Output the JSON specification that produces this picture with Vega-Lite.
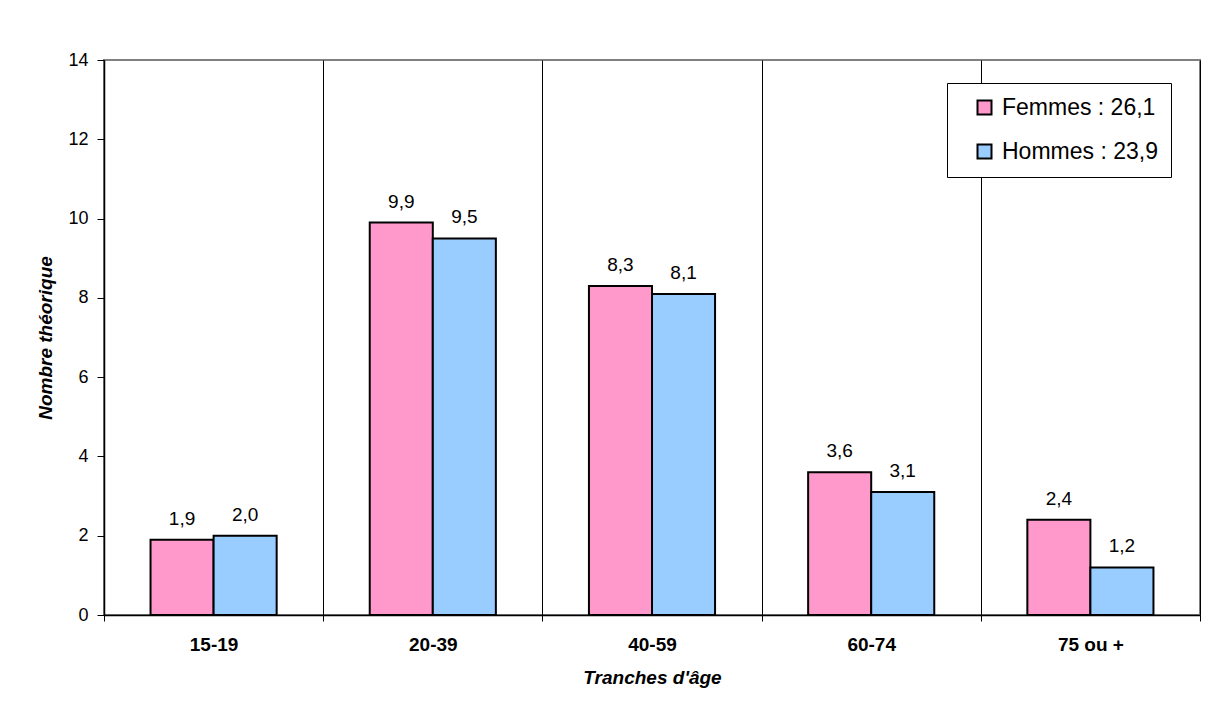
{
  "$schema": "https://vega.github.io/schema/vega-lite/v6.json",
  "width": 1096,
  "height": 555,
  "autosize": {"type": "none"},
  "padding": {"left": 104, "top": 60, "right": 22, "bottom": 96},
  "background": "white",
  "config": {
    "locale": {"number": {"decimal": ",", "thousands": "\u00a0", "grouping": [3], "currency": ["", " €"]}},
    "font": "Liberation Sans",
    "view": {"stroke": "#808080", "strokeWidth": 2}
  },
  "data": {
    "values": [
      {"tranche": "15-19", "sexe": "Femmes", "valeur": 1.9},
      {"tranche": "15-19", "sexe": "Hommes", "valeur": 2.0},
      {"tranche": "20-39", "sexe": "Femmes", "valeur": 9.9},
      {"tranche": "20-39", "sexe": "Hommes", "valeur": 9.5},
      {"tranche": "40-59", "sexe": "Femmes", "valeur": 8.3},
      {"tranche": "40-59", "sexe": "Hommes", "valeur": 8.1},
      {"tranche": "60-74", "sexe": "Femmes", "valeur": 3.6},
      {"tranche": "60-74", "sexe": "Hommes", "valeur": 3.1},
      {"tranche": "75 ou +", "sexe": "Femmes", "valeur": 2.4},
      {"tranche": "75 ou +", "sexe": "Hommes", "valeur": 1.2}
    ]
  },
  "encoding": {
    "x": {
      "field": "tranche",
      "type": "nominal",
      "sort": ["15-19", "20-39", "40-59", "60-74", "75 ou +"],
      "scale": {"paddingInner": 0, "paddingOuter": 0},
      "axis": {
        "title": "Tranches d'âge",
        "titleFontStyle": "italic",
        "titleFontWeight": "bold",
        "titleFontSize": 19,
        "titleColor": "black",
        "titlePadding": 14,
        "labelFontWeight": "bold",
        "labelFontSize": 19,
        "labelColor": "black",
        "labelAngle": 0,
        "labelPadding": 14,
        "tickBand": "extent",
        "grid": true,
        "gridColor": "black",
        "gridWidth": 1,
        "tickColor": "black",
        "tickSize": 6,
        "domainColor": "black",
        "domainWidth": 1.5
      }
    },
    "xOffset": {
      "field": "sexe",
      "type": "nominal",
      "sort": ["Femmes", "Hommes"],
      "scale": {"paddingInner": 0, "paddingOuter": 0.738}
    },
    "y": {
      "field": "valeur",
      "type": "quantitative",
      "scale": {"domain": [0, 14]},
      "axis": {
        "title": "Nombre théorique",
        "values": [0, 2, 4, 6, 8, 10, 12, 14],
        "format": "d",
        "grid": false,
        "tickSize": 7,
        "tickColor": "black",
        "domainColor": "black",
        "domainWidth": 1.5,
        "labelFontSize": 18,
        "labelColor": "black",
        "labelPadding": 9,
        "titleFontSize": 19,
        "titleFontStyle": "italic",
        "titleFontWeight": "bold",
        "titleColor": "black",
        "titlePadding": 12
      }
    }
  },
  "layer": [
    {
      "mark": {"type": "bar", "stroke": "black", "strokeWidth": 2},
      "encoding": {
        "color": {
          "field": "sexe",
          "type": "nominal",
          "sort": ["Femmes", "Hommes"],
          "scale": {"domain": ["Femmes", "Hommes"], "range": ["#FF99CC", "#99CCFF"]},
          "legend": {
            "orient": "none",
            "legendX": 843,
            "legendY": 23,
            "title": null,
            "direction": "vertical",
            "strokeColor": "black",
            "fillColor": "white",
            "padding": 13,
            "symbolType": "square",
            "symbolSize": 196,
            "symbolStrokeColor": "black",
            "symbolStrokeWidth": 2,
            "symbolOpacity": 1,
            "symbolOffset": 13,
            "labelFontSize": 23,
            "labelColor": "black",
            "labelOffset": 6,
            "labelLimit": 400,
            "rowPadding": 20,
            "labelExpr": "datum.label == 'Femmes' ? 'Femmes : 26,1' : 'Hommes : 23,9'"
          }
        }
      }
    },
    {
      "mark": {"type": "text", "baseline": "bottom", "dy": -11, "fontSize": 19, "color": "black"},
      "encoding": {
        "text": {"field": "valeur", "type": "quantitative", "format": ".1f"}
      }
    }
  ]
}
